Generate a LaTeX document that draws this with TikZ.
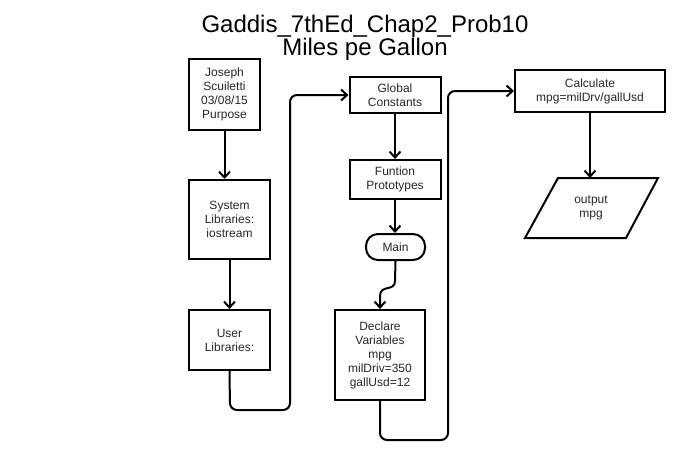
\documentclass[tikz,border=0pt]{standalone}
\usepackage{fontspec}
\setmainfont{Liberation Sans}
\usetikzlibrary{arrows.meta,shapes.geometric}
\definecolor{txt}{RGB}{40,40,40}
\tikzset{
  box/.style={draw=black, line width=2pt, fill=white, inner sep=0pt, align=center,
    font=\fontsize{12}{14}\selectfont, text=txt},
  term/.style={box, rounded corners=12pt},
  conn/.style={line width=2pt, -{Straight Barb[length=6pt,width=11pt,line width=2pt]}},
  loopconn/.style={conn, rounded corners=7pt},
  titletext/.style={font=\fontsize{24}{24}\selectfont, anchor=base, text=black, inner sep=0pt},
}
\begin{document}
\begin{tikzpicture}[x=1pt,y=-1pt]
\useasboundingbox (0,0) rectangle (690,464);
\node[titletext] (title1) at (365,32) {Gaddis\_7thEd\_Chap2\_Prob10};
\node[titletext] (title2) at (365,55) {Miles pe Gallon};

\node[box, minimum width=71, minimum height=71] (n1) at (224.5,94.5) {Joseph\\Scuiletti\\03/08/15\\Purpose};
\node[box, minimum width=81, minimum height=79] (n2) at (229.5,219.5) {System\\Libraries:\\iostream};
\node[box, minimum width=81, minimum height=60] (n3) at (229.5,340) {User\\Libraries:};

\node[box, minimum width=91, minimum height=36] (g) at (395,95) {Global\\Constants};
\node[box, minimum width=91, minimum height=39] (f) at (395,179.5) {Funtion\\Prototypes};
\node[term, minimum width=59, minimum height=26] (m) at (395.5,247) {Main};
\node[box, minimum width=90, minimum height=90] (d) at (380,355) {Declare\\Variables\\mpg\\milDriv=350\\gallUsd=12};

\node[box, minimum width=150, minimum height=42] (c) at (590,91) {Calculate\\mpg=milDrv/gallUsd};
\draw[line width=2pt, fill=white] (558,178) -- (658,178) -- (626,238) -- (525,238) -- cycle;
\node[align=center, font=\fontsize{12}{14}\selectfont, text=txt, inner sep=0pt] (o) at (591,208) {output\\mpg};
\coordinate (otop) at (590,178);

\draw[conn] (n1.south) -- (n1.south |- n2.north);
\draw[conn] (n2.south) -- (n3.north);
\draw[conn] (g.south) -- (f.north);
\draw[conn] (f.south) -- (f.south |- m.north);
\draw[conn] (m.south) -- (395,281) .. controls (395,292) and (380,284) .. (380,296) -- (d.north);
\draw[loopconn] (n3.south) -- (230,410) -- (290,410) -- (290,95) -- (g.west);
\draw[loopconn] (d.south) -- (380,440) -- (448,440) -- (448,91) -- (c.west);
\draw[conn] (c.south) -- (otop);
\end{tikzpicture}
\end{document}
